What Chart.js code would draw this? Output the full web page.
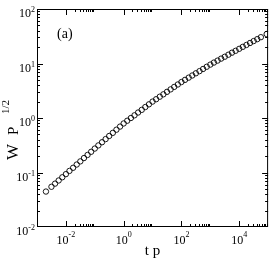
<!DOCTYPE html>
<html>
<head>
<meta charset="utf-8">
<script src="https://cdn.jsdelivr.net/npm/chart.js@4"></script>
<style>
  html, body { margin: 0; padding: 0; background: #fff; }
  canvas { display: block; }
</style>
</head>
<body>
<canvas id="grafico" width="273" height="262"></canvas>
<script>
// valores (t p , W P^1/2)
const tpValues = [
  0.00204, 0.00316, 0.00422, 0.00562, 0.0075, 0.01, 0.0133, 0.0178, 0.0237, 0.0316,
  0.0422, 0.0562, 0.075, 0.1, 0.133, 0.178, 0.237, 0.316, 0.422, 0.562,
  0.75, 1, 1.33, 1.78, 2.37, 3.16, 4.22, 5.62, 7.5, 10,
  13.3, 17.8, 23.7, 31.6, 42.2, 56.2, 75, 100, 133, 178,
  237, 316, 422, 562, 750, 1000, 1330, 1780, 2370, 3160,
  4220, 5620, 7500, 10000, 13300, 17800, 23700, 31600, 42200, 56200,
  89000,
];
const wValues = [
  0.0447, 0.0547, 0.0625, 0.0714, 0.0817, 0.0933, 0.107, 0.122, 0.14, 0.16,
  0.184, 0.21, 0.24, 0.275, 0.314, 0.359, 0.41, 0.468, 0.534, 0.61,
  0.696, 0.794, 0.891, 1.0, 1.12, 1.26, 1.41, 1.59, 1.78, 2.0,
  2.21, 2.46, 2.72, 3.02, 3.35, 3.72, 4.12, 4.57, 5.01, 5.5,
  6.03, 6.61, 7.24, 7.94, 8.71, 9.55, 10.4, 11.3, 12.3, 13.3,
  14.5, 15.8, 17.1, 18.6, 20.2, 21.9, 23.8, 25.8, 28.0, 30.4,
  34.7,
];
const xMajorTicks = [1e-2, 1, 1e2, 1e4];
const xTickExponents = ["-2", "0", "2", "4"];
const yMajorTicks = [1e-2, 1e-1, 1, 10, 100];
const yTickExponents = ["-2", "-1", "0", "1", "2"];

const serif = "'Liberation Serif', 'DejaVu Serif', serif";

const eixos = {
  id: "eixos",
  afterDatasetsDraw(chart) {
    const { ctx, chartArea: a, scales } = chart;
    const xs = scales.x, ys = scales.y;
    ctx.save();
    ctx.strokeStyle = "#000";
    ctx.fillStyle = "#000";
    ctx.lineWidth = 1;

    // moldura
    ctx.strokeRect(a.left + 0.5, a.top + 0.5, a.right - a.left - 1, a.bottom - a.top - 1);

    function tickX(v, len) {
      const px = Math.round(xs.getPixelForValue(v)) + 0.5;
      if (px < a.left || px > a.right) return;
      ctx.beginPath();
      ctx.moveTo(px, a.bottom); ctx.lineTo(px, a.bottom - len);
      ctx.moveTo(px, a.top); ctx.lineTo(px, a.top + len);
      ctx.stroke();
    }
    function tickY(v, len) {
      const py = Math.round(ys.getPixelForValue(v)) + 0.5;
      if (py < a.top || py > a.bottom) return;
      ctx.beginPath();
      ctx.moveTo(a.left, py); ctx.lineTo(a.left + len, py);
      ctx.moveTo(a.right, py); ctx.lineTo(a.right - len, py);
      ctx.stroke();
    }

    xMajorTicks.forEach(m => {
      tickX(m, 6);
      for (let k = 2; k <= 9; k++) tickX(m * k, 3);
    });
    yMajorTicks.forEach(m => {
      tickY(m, 6);
      for (let k = 2; k <= 9; k++) tickY(m * k, 3);
    });

    // rótulos x
    xMajorTicks.forEach((m, i) => {
      const px = xs.getPixelForValue(m);
      ctx.font = "12px " + serif;
      const wb = ctx.measureText("10").width;
      ctx.font = "8px " + serif;
      const ws = ctx.measureText(xTickExponents[i]).width;
      const x0 = px - (wb + ws) / 2;
      ctx.font = "12px " + serif;
      ctx.textAlign = "left";
      ctx.textBaseline = "alphabetic";
      ctx.fillText("10", x0, 244);
      ctx.font = "8px " + serif;
      ctx.fillText(xTickExponents[i], x0 + wb, 237);
    });

    // rótulos y
    yMajorTicks.forEach((m, i) => {
      const py = ys.getPixelForValue(m);
      ctx.font = "8px " + serif;
      const ws = ctx.measureText(yTickExponents[i]).width;
      ctx.textAlign = "left";
      ctx.fillText(yTickExponents[i], 35 - ws, py + 3);
      ctx.font = "12px " + serif;
      const wb = ctx.measureText("10").width;
      ctx.fillText("10", 35 - ws - wb, py + 8);
    });

    // título x
    ctx.font = "15px " + serif;
    ctx.textAlign = "center";
    ctx.fillText("t p", (a.left + a.right) / 2, 255);

    // título y
    ctx.save();
    ctx.translate(18, 160);
    ctx.rotate(-Math.PI / 2);
    ctx.textAlign = "left";
    ctx.font = "17px " + serif;
    ctx.fillText("W", 0, 0);
    ctx.font = "15px " + serif;
    ctx.fillText("P", 25, 0);
    ctx.font = "11px " + serif;
    ctx.fillText("1/2", 46, -9);
    ctx.restore();

    // painel
    ctx.font = "14px " + serif;
    ctx.textAlign = "left";
    ctx.fillText("(a)", 57, 38);

    ctx.restore();
  },
};

document.addEventListener("DOMContentLoaded", function () {
  const ctx = document.getElementById("grafico").getContext("2d");

  const grafico = new Chart(ctx, {
    type: "scatter",
    data: {
      datasets: [
        {
          label: "W P^1/2",
          data: tpValues.map((t, i) => ({ x: t, y: wValues[i] })),
          pointStyle: "circle",
          pointRadius: 2.7,
          pointBorderWidth: 0.9,
          pointBorderColor: "#000",
          pointBackgroundColor: "rgba(0,0,0,0)",
          showLine: false,
        },
      ],
    },
    options: {
      responsive: false,
      devicePixelRatio: 1,
      animation: false,
      layout: { padding: { left: 37, right: 2, top: 9, bottom: 35 } },
      plugins: { legend: { display: false }, tooltip: { enabled: false } },
      scales: {
        x: { type: "logarithmic", min: 1e-3, max: 1e5, display: false },
        y: { type: "logarithmic", min: 1e-2, max: 1e2, display: false },
      },
    },
    plugins: [eixos],
  });
});
</script>
</body>
</html>
